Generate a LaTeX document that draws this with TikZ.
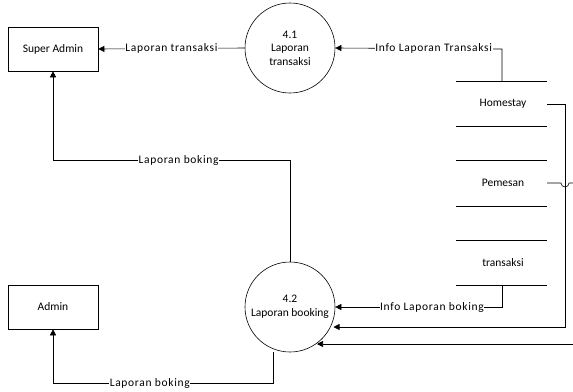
\documentclass[tikz,border=0pt]{standalone}
\usepackage{fontspec}
\setmainfont{Carlito}
\newfontfamily\lblfont[LetterSpace=6]{Carlito}
\usetikzlibrary{arrows.meta}
\begin{document}
\begin{tikzpicture}[x=1pt,y=-1pt,
  every node/.style={font=\fontsize{11.5}{13.5}\selectfont},
  entity/.style={draw,line width=0.6pt,minimum width=90pt,minimum height=44pt,inner sep=0pt},
  proc/.style={draw,circle,line width=0.6pt,minimum size=90pt,inner sep=0pt,align=center},
  flow/.style={line width=0.6pt,-{Triangle[length=6pt,width=6pt]}},
  plain/.style={line width=0.6pt},
  lbl/.style={fill=white,inner sep=0.5pt,font=\lblfont\fontsize{11.5}{13.5}\selectfont},
  store/.style={line width=0.6pt}]
\useasboundingbox (0,0) rectangle (573,391);
\node[entity] (sa) at (53,49) {Super Admin};
\node[entity] (ad) at (53,307) {Admin};
\node[proc] (p1) at (290,48) {4.1\\Laporan\\transaksi};
\node[proc] (p2) at (290,307) {4.2\\Laporan booking};
% data stores
\draw[store] (456,81) -- (547,81) (456,126) -- (547,126);
\node (hs) at (503,104) {Homestay};
\draw[store] (456,160) -- (547,160) (456,206) -- (547,206);
\node (pm) at (503,183) {Pemesan};
\draw[store] (456,240) -- (547,240) (456,285) -- (547,285);
\node (tr) at (503,263) {transaksi};
\coordinate (hsT) at (502,81);
\coordinate (trB) at (502,285);
\coordinate (hsR) at (547,104);
\coordinate (pmR) at (547,183);
\coordinate (edge) at (573,183);
\coordinate (edge2) at (573,344);
% flows
\draw[flow] (p1.west) -- node[lbl]{Laporan transaksi} (sa.east);
\draw[flow] (hsT) -- (502,49) -- node[lbl,pos=0.41]{Info Laporan Transaksi} (p1.east);
\draw[flow] (p2.north) -- (290,160) -- node[lbl,pos=0.47]{Laporan boking} (53,160) -- (sa.south);
\draw[flow] (273,352) -- (273,383) -- node[lbl,pos=0.56]{Laporan boking} (53,383) -- (ad.south);
\draw[flow] (trB) -- (502,307) -- node[lbl,pos=0.42]{Info Laporan boking} (p2.east);
\draw[flow] (hsR) -- (565,104) -- (565,327) -- (333.5,327);
\draw[plain] (pmR) -- (561,183) arc[start angle=180,end angle=0,radius=4] -- (edge);
\draw[flow] (edge2) -- (317,344);
\end{tikzpicture}
\end{document}
